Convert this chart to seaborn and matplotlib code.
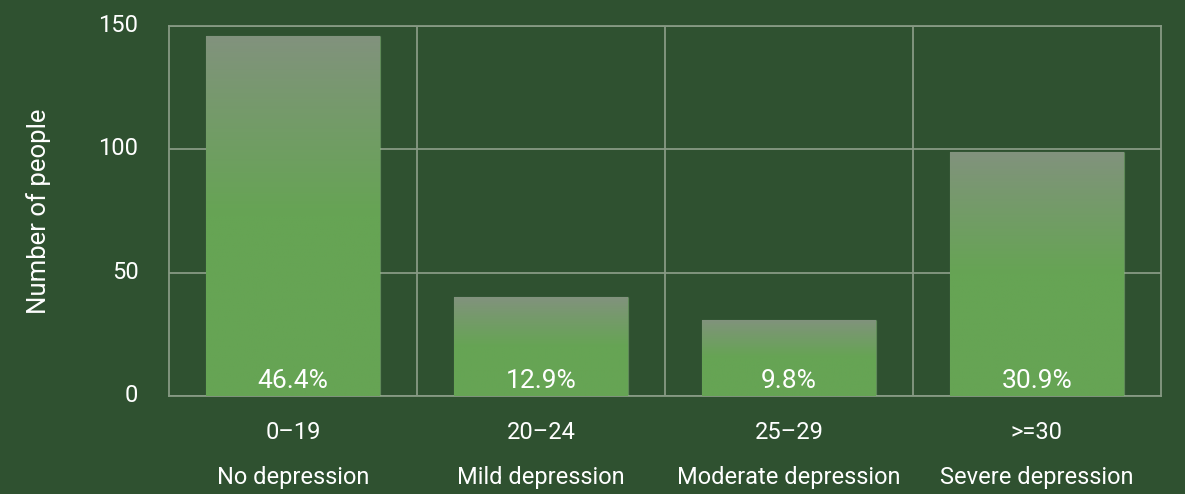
import numpy as np
import pandas as pd
import matplotlib
matplotlib.use("Agg")
import matplotlib.pyplot as plt
import matplotlib.transforms as mtransforms
from matplotlib.colors import LinearSegmentedColormap
import seaborn as sns

# Depression score bands and counts
score_ranges = ["0–19", "20–24", "25–29", ">=30"]
severity = ["No depression", "Mild depression", "Moderate depression", "Severe depression"]
people = [146, 40, 31, 99]
share_labels = ["46.4%", "12.9%", "9.8%", "30.9%"]

BG = "#2f5130"
GREEN = "#66a454"
TOP = "#82927e"
GRID = "#879a84"

sns.set_theme(style="dark")
plt.rcParams["font.family"] = ["Roboto", "DejaVu Sans"]

df = pd.DataFrame({
    "band": [f"{r}\n{s}" for r, s in zip(score_ranges, severity)],
    "people": people,
})

fig = plt.figure(figsize=(11.85, 4.94), dpi=100, facecolor=BG)
ax = fig.add_axes([0.1426, 0.1984, 0.9797 - 0.1426, 0.9474 - 0.1984])
ax.set_facecolor(BG)

sns.barplot(data=df, x="band", y="people", color=GREEN, width=0.7,
            saturation=1, ax=ax, zorder=3)

# Vertical fade: muted grey-green at the top, solid green lower down
cmap = LinearSegmentedColormap.from_list("fade", [TOP, GREEN])
for patch, val in zip(ax.patches, people):
    x0 = patch.get_x()
    w = patch.get_width()
    frac = np.linspace(1, 0, 200)  # 1 at top, 0 at bottom
    t = np.clip((1 - frac) / 0.5, 0, 1) ** 0.9
    img = t[:, None] * np.ones((1, 2))
    im = ax.imshow(img, cmap=cmap, vmin=0, vmax=1, aspect="auto",
                   extent=(x0, x0 + w, 0, val), origin="upper",
                   zorder=3.5, interpolation="bilinear")
    im.set_clip_path(patch)
    patch.set_edgecolor((1, 1, 1, 0.12))
    patch.set_linewidth(1.0)

ax.set_xlim(-0.5, len(people) - 0.5)
ax.set_ylim(0, 150)

# Percentage labels near the base of each bar
for i, lab in enumerate(share_labels):
    ax.text(i, 6.0, lab, ha="center", va="center", color="white",
            fontsize=19, zorder=5)

# Grid: horizontal at y ticks, vertical between categories
ax.set_yticks([0, 50, 100, 150])
ax.set_xticks(np.arange(len(people)))
ax.set_xticks(np.arange(len(people) - 1) + 0.5, minor=True)
ax.grid(False)
ax.yaxis.grid(True, color=GRID, linewidth=1.3, zorder=1)
ax.xaxis.grid(True, which="minor", color=GRID, linewidth=1.3, zorder=1)
ax.set_axisbelow(True)
for s in ax.spines.values():
    s.set_visible(True)
    s.set_color(GRID)
    s.set_linewidth(1.3)

ax.tick_params(axis="both", which="both", length=0, colors="white", labelsize=17)
ax.tick_params(axis="y", pad=22)
ax.tick_params(axis="x", pad=18)
for t in ax.get_xticklabels():
    t.set_linespacing(2.2)
# nudge y tick labels slightly upward
lift = mtransforms.ScaledTranslation(0, 3 / 100, fig.dpi_scale_trans)
for t in ax.get_yticklabels():
    t.set_transform(t.get_transform() + lift)

ax.set_xlabel("")
ax.set_ylabel("Number of people", color="white", fontsize=18.5, labelpad=34)

fig.savefig("out.png", dpi=100, facecolor=BG)
